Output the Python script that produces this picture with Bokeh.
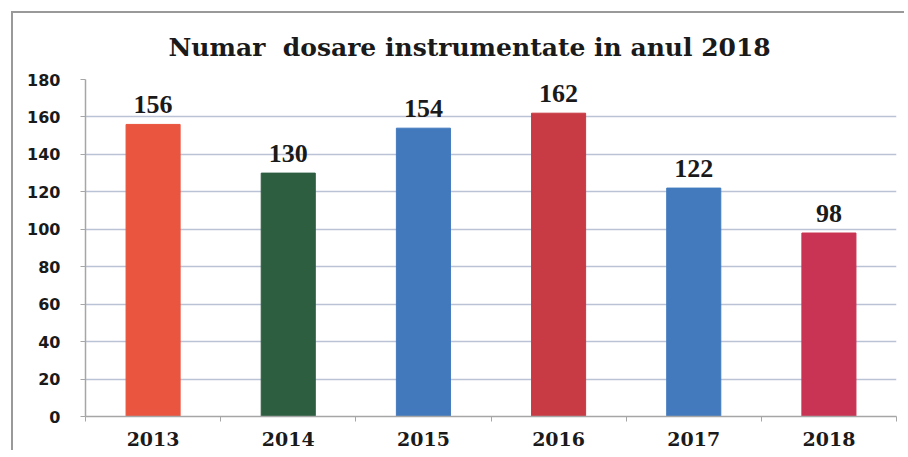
from bokeh.plotting import figure
from bokeh.models import ColumnDataSource, FixedTicker, Range1d, LabelSet
from bokeh.embed import file_html
from bokeh.resources import INLINE

years = ["2013", "2014", "2015", "2016", "2017", "2018"]
counts = [156, 130, 154, 162, 122, 98]
colors = ["#E9553F", "#2D5E40", "#4279BD", "#C83A44", "#427ABD", "#C93454"]
y_ticks = [0, 20, 40, 60, 80, 100, 120, 140, 160, 180]
title_text = "Numar\u00a0 dosare instrumentate in anul 2018"

xs = [i + 0.5 for i in range(len(years))]
src = ColumnDataSource(dict(x=xs, top=counts, color=colors,
                            label=[str(c) for c in counts], year=years))

p = figure(width=893, height=439, output_backend="svg", toolbar_location=None,
           x_range=Range1d(0, len(years)), y_range=Range1d(0, 180),
           min_border_left=72, min_border_right=10, min_border_top=65, min_border_bottom=36)

p.styles = {"border-left": "2px solid #999999", "border-top": "2px solid #999999",
            "margin-left": "11px", "margin-top": "11px"}

p.vbar(x="x", top="top", width=0.4, color="color", source=src)

labels = LabelSet(x="x", y="top", text="label", source=src, text_align="center",
                  text_baseline="alphabetic", y_offset=11,
                  text_font="DejaVu Serif", text_font_style="bold",
                  text_font_size="26px", text_color="#1a1a1a")
p.add_layout(labels)

p.title.text = title_text
p.title.align = "left"
p.title.text_font = "DejaVu Serif"
p.title.text_font_style = "bold"
p.title.text_font_size = "25px"
p.title.text_color = "#1a1a1a"
p.title.offset = 83
p.title.standoff = 35

p.outline_line_color = None
p.xgrid.grid_line_color = None
p.ygrid.grid_line_color = "#BAC3D6"
p.ygrid.grid_line_width = 1.5
p.ygrid.ticker = FixedTicker(ticks=y_ticks)

p.yaxis.ticker = FixedTicker(ticks=y_ticks)
p.yaxis.axis_line_color = "#A6A6A6"
p.yaxis.axis_line_width = 1.5
p.yaxis.major_tick_line_color = "#A6A6A6"
p.yaxis.major_tick_out = 5
p.yaxis.major_tick_in = 0
p.yaxis.minor_tick_line_color = None
p.yaxis.major_label_text_font = "DejaVu Sans"
p.yaxis.major_label_text_font_style = "bold"
p.yaxis.major_label_text_font_size = "16px"
p.yaxis.major_label_text_color = "#1a1a1a"
p.yaxis.major_label_standoff = 20

p.xaxis.ticker = FixedTicker(ticks=xs, minor_ticks=list(range(len(years) + 1)))
p.xaxis.major_label_overrides = {x: y for x, y in zip(xs, years)}
p.xaxis.axis_line_color = "#A6A6A6"
p.xaxis.axis_line_width = 1.5
p.xaxis.major_tick_line_color = None
p.xaxis.minor_tick_line_color = "#A6A6A6"
p.xaxis.minor_tick_out = 5
p.xaxis.minor_tick_in = 0
p.xaxis.major_label_text_font = "DejaVu Serif"
p.xaxis.major_label_text_font_style = "bold"
p.xaxis.major_label_text_font_size = "19px"
p.xaxis.major_label_text_color = "#1a1a1a"
p.xaxis.major_label_standoff = 9

open("out.html", "w").write(file_html(p, INLINE))
